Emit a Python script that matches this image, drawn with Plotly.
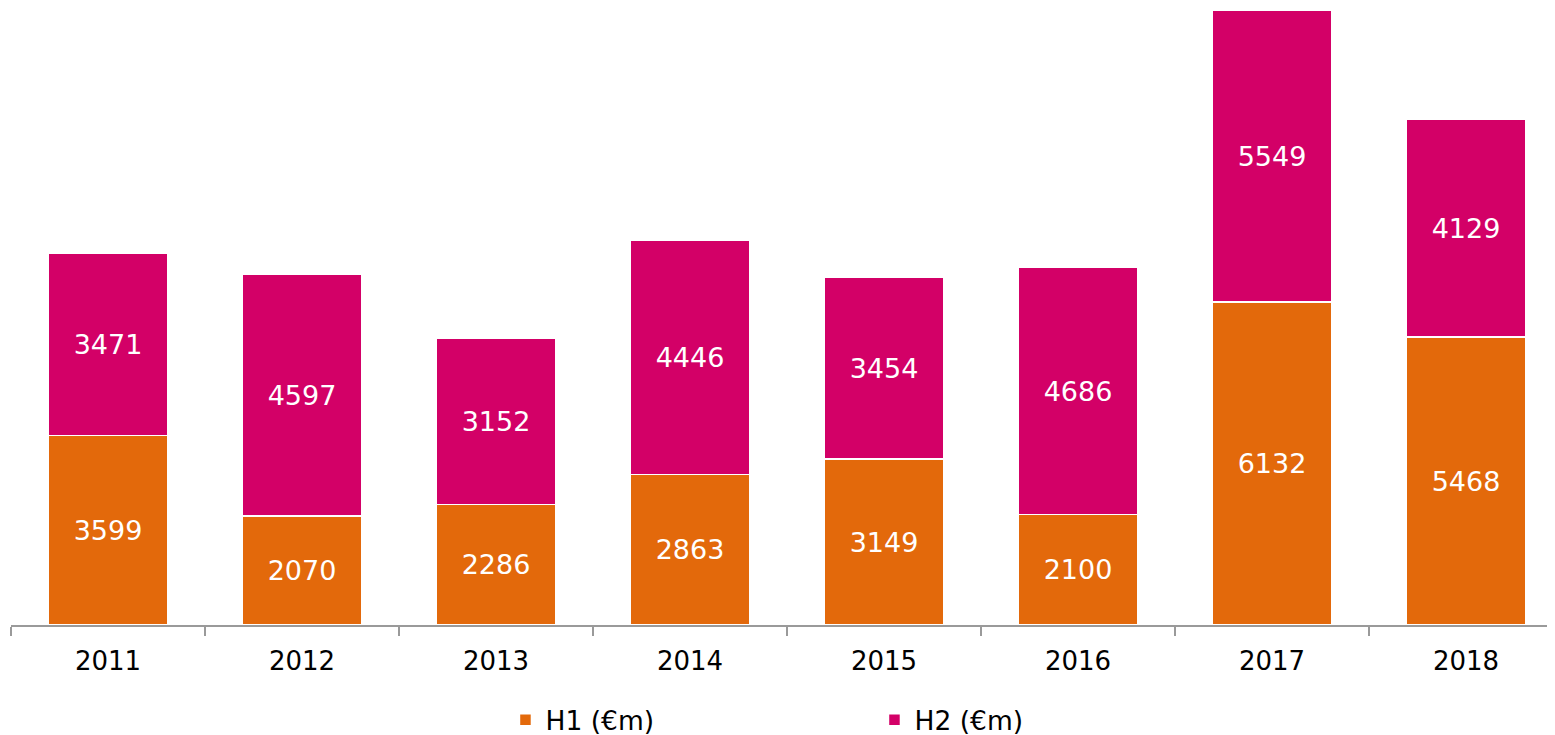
import plotly.graph_objects as go

# ── Data ──────────────────────────────────────────────
years = ["2011", "2012", "2013", "2014", "2015", "2016", "2017", "2018"]
h1 = [3599, 2070, 2286, 2863, 3149, 2100, 6132, 5468]
h2 = [3471, 4597, 3152, 4446, 3454, 4686, 5549, 4129]

ORANGE = "#E3690B"
MAGENTA = "#D30067"
FONT = "Verdana, DejaVu Sans, sans-serif"

fig = go.Figure()

for name, vals, clr in [("H1 (€m)", h1, ORANGE), ("H2 (€m)", h2, MAGENTA)]:
    fig.add_trace(go.Bar(
        x=years, y=vals, name=name,
        marker=dict(color=clr, line=dict(color="white", width=1.5)),
        text=[str(v) for v in vals],
        textposition="inside", insidetextanchor="middle", textangle=0,
        textfont=dict(color="white", size=27, family=FONT),
        hoverinfo="skip",
    ))

# page body has an 8px margin, so offsets are compensated here
fig.update_layout(
    width=1555, height=727,
    barmode="stack",
    bargap=0.385,
    plot_bgcolor="white", paper_bgcolor="white",
    margin=dict(l=3, r=0, t=0, b=110, autoexpand=False),
    font=dict(family=FONT, size=25, color="#000000"),
    showlegend=True,
    legend=dict(
        orientation="h", x=0.3186, xanchor="left", y=-0.154, yanchor="middle",
        entrywidth=324, entrywidthmode="pixels",
        font=dict(size=26.5, family=FONT), traceorder="normal",
    ),
    uniformtext=dict(minsize=27, mode="show"),
)
fig.update_xaxes(
    showline=True, linecolor="#9A9A9A", linewidth=2,
    ticks="outside", tickson="boundaries", ticklen=9, tickwidth=2, tickcolor="#9A9A9A",
    tickfont=dict(size=26, family=FONT, color="#000000"),
    ticklabelstandoff=12,
    showgrid=False,
)
fig.update_yaxes(range=[0, 11719], visible=False, showgrid=False, zeroline=False)

fig.write_html("out.html")
